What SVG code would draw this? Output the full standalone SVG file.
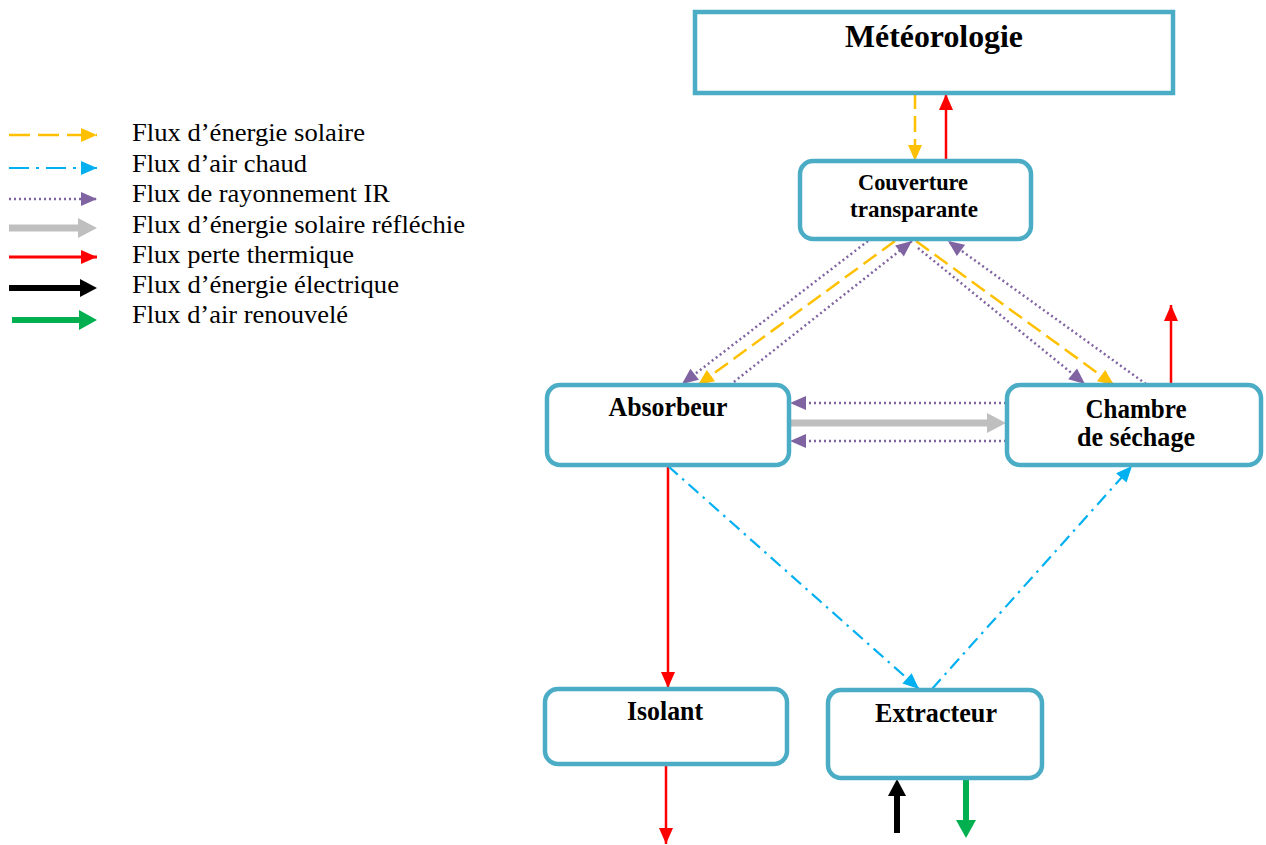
<svg xmlns="http://www.w3.org/2000/svg" width="1266" height="845" viewBox="0 0 1266 845">
<style>
.box{fill:#fff;stroke:#4BACC6;stroke-width:4.5}
.nt{font-family:"Liberation Serif","Times New Roman",serif;font-weight:bold;fill:#000;text-anchor:middle}
.lt{font-family:"Liberation Serif","Times New Roman",serif;font-size:26px;fill:#000}
.yel{stroke:#FFC000;stroke-width:2.5;fill:none;stroke-dasharray:16 7;marker-end:url(#hy)}
.blu{stroke:#00B0F0;stroke-width:2.2;fill:none;stroke-dasharray:13 6 2.5 6;marker-end:url(#hb)}
.pur{stroke:#8064A2;stroke-width:2.5;fill:none;stroke-dasharray:2 3;marker-end:url(#hp)}
.red{stroke:#FF0000;stroke-width:2.5;fill:none;marker-end:url(#hr)}
.gry{stroke:#BFBFBF;stroke-width:7;fill:none;marker-end:url(#hg)}
.blk{stroke:#000;stroke-width:6;fill:none;marker-end:url(#hk)}
.grn{stroke:#00B050;stroke-width:6;fill:none;marker-end:url(#hn)}
</style>
<defs>
<marker id="hy" markerUnits="userSpaceOnUse" markerWidth="16" markerHeight="14" refX="16" refY="7" orient="auto" overflow="visible"><path d="M0,0 L16,7 L0,14 z" fill="#FFC000"/></marker>
<marker id="hb" markerUnits="userSpaceOnUse" markerWidth="16" markerHeight="14" refX="16" refY="7" orient="auto" overflow="visible"><path d="M0,0 L16,7 L0,14 z" fill="#00B0F0"/></marker>
<marker id="hp" markerUnits="userSpaceOnUse" markerWidth="16" markerHeight="14" refX="16" refY="7" orient="auto" overflow="visible"><path d="M0,0 L16,7 L0,14 z" fill="#8064A2"/></marker>
<marker id="hr" markerUnits="userSpaceOnUse" markerWidth="16" markerHeight="14" refX="16" refY="7" orient="auto" overflow="visible"><path d="M0,0 L16,7 L0,14 z" fill="#FF0000"/></marker>
<marker id="hg" markerUnits="userSpaceOnUse" markerWidth="19" markerHeight="20" refX="0" refY="10" orient="auto" overflow="visible"><path d="M0,0 L19,10 L0,20 z" fill="#BFBFBF"/></marker>
<marker id="hk" markerUnits="userSpaceOnUse" markerWidth="17" markerHeight="18" refX="0" refY="9" orient="auto" overflow="visible"><path d="M0,0 L17,9 L0,18 z" fill="#000"/></marker>
<marker id="hn" markerUnits="userSpaceOnUse" markerWidth="18" markerHeight="20" refX="0" refY="10" orient="auto" overflow="visible"><path d="M0,0 L18,10 L0,20 z" fill="#00B050"/></marker>
</defs>

<g id="legend">
<line class="yel" x1="9" y1="135" x2="97" y2="135" style="stroke-dasharray:21 8"/>
<line class="blu" x1="9" y1="168" x2="97" y2="168" style="stroke-dasharray:20 7 3 7"/>
<line class="pur" x1="9" y1="199" x2="97" y2="199"/>
<line class="gry" x1="9" y1="228" x2="78" y2="228"/>
<line class="red" x1="9" y1="257" x2="97" y2="257" style="stroke-width:3"/>
<line class="blk" x1="9" y1="288" x2="80" y2="288"/>
<line class="grn" x1="12" y1="320" x2="79" y2="320"/>
<text class="lt" x="132" y="141" textLength="233" lengthAdjust="spacingAndGlyphs">Flux d’énergie solaire</text>
<text class="lt" x="132" y="172" textLength="175" lengthAdjust="spacingAndGlyphs">Flux d’air chaud</text>
<text class="lt" x="132" y="202" textLength="258" lengthAdjust="spacingAndGlyphs">Flux de rayonnement IR</text>
<text class="lt" x="132" y="233" textLength="333" lengthAdjust="spacingAndGlyphs">Flux d’énergie solaire réfléchie</text>
<text class="lt" x="132" y="263" textLength="222" lengthAdjust="spacingAndGlyphs">Flux perte thermique</text>
<text class="lt" x="132" y="293" textLength="267" lengthAdjust="spacingAndGlyphs">Flux d’énergie électrique</text>
<text class="lt" x="132" y="323" textLength="216" lengthAdjust="spacingAndGlyphs">Flux d’air renouvelé</text>
</g>

<g id="connectors">
<line class="yel" x1="915" y1="93" x2="915" y2="161"/>
<line class="red" x1="946" y1="161" x2="946" y2="94"/>
<line class="pur" x1="868" y1="241" x2="682" y2="384"/>
<line class="yel" x1="895" y1="241" x2="698" y2="385"/>
<line class="pur" x1="730" y1="385" x2="912" y2="241"/>
<line class="yel" x1="916" y1="241" x2="1114" y2="385"/>
<line class="pur" x1="918" y1="248" x2="1085" y2="384"/>
<line class="pur" x1="1146" y1="384" x2="948" y2="241"/>
<line class="red" x1="1171" y1="384" x2="1171" y2="305"/>
<line class="pur" x1="1006" y1="403" x2="790" y2="403"/>
<line class="gry" x1="791" y1="423" x2="987" y2="423"/>
<line class="pur" x1="1006" y1="441" x2="790" y2="441"/>
<line class="red" x1="668" y1="466" x2="668" y2="688"/>
<line class="blu" x1="668" y1="466" x2="919" y2="689"/>
<line class="blu" x1="932" y1="689" x2="1132" y2="466"/>
<line class="red" x1="666" y1="765" x2="666" y2="844"/>
<line class="blk" x1="897" y1="833" x2="897" y2="796"/>
<line class="grn" x1="966" y1="780" x2="966" y2="820"/>
</g>

<g id="meteorologie">
<rect class="box" x="695" y="12" width="478" height="81"/>
<text class="nt" x="934" y="47" font-size="31" textLength="178" lengthAdjust="spacingAndGlyphs">Météorologie</text>
</g>
<g id="couverture">
<rect class="box" x="800" y="161" width="231" height="78" rx="13"/>
<text class="nt" x="913" y="190" font-size="24" textLength="110" lengthAdjust="spacingAndGlyphs">Couverture</text>
<text class="nt" x="914" y="217" font-size="24" textLength="128" lengthAdjust="spacingAndGlyphs">transparante</text>
</g>
<g id="absorbeur">
<rect class="box" x="547" y="385" width="242" height="80" rx="13"/>
<text class="nt" x="668" y="416" font-size="27" textLength="119" lengthAdjust="spacingAndGlyphs">Absorbeur</text>
</g>
<g id="chambre">
<rect class="box" x="1007" y="385" width="254" height="80" rx="13"/>
<text class="nt" x="1136" y="418" font-size="27" textLength="101" lengthAdjust="spacingAndGlyphs">Chambre</text>
<text class="nt" x="1136" y="446" font-size="27" textLength="118" lengthAdjust="spacingAndGlyphs">de séchage</text>
</g>
<g id="isolant">
<rect class="box" x="545" y="689" width="242" height="75" rx="13"/>
<text class="nt" x="665" y="720" font-size="27" textLength="76" lengthAdjust="spacingAndGlyphs">Isolant</text>
</g>
<g id="extracteur">
<rect class="box" x="828" y="690" width="214" height="88" rx="13"/>
<text class="nt" x="936" y="722" font-size="27" textLength="122" lengthAdjust="spacingAndGlyphs">Extracteur</text>
</g>
</svg>
